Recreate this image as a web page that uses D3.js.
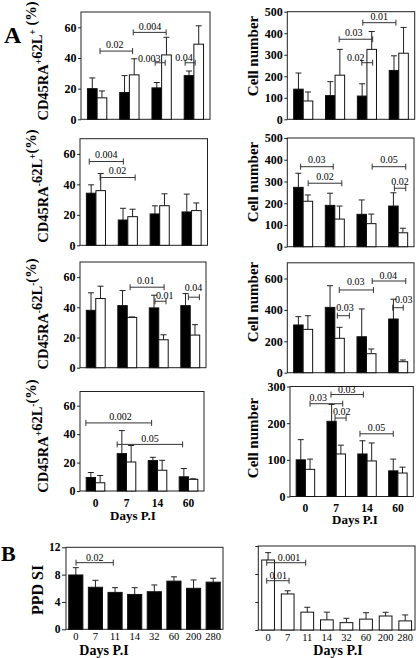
<!DOCTYPE html>
<html><head><meta charset="utf-8">
<script src="https://cdn.jsdelivr.net/npm/d3@7"></script>
<style>
body{margin:0;background:#fff;}
svg{display:block;}
text{font-family:"Liberation Serif","Times New Roman",serif;fill:#000;}
</style></head><body>
<svg id="c" width="416" height="658"></svg>
<script>
// ---------- DATA ----------
const days = ["0","7","14","60"];
const daysB = ["0","7","11","14","32","60","200","280"];

// Row 1: CD45RA+62L+
const r1PctBlack = [20, 17.5, 20.5, 28.5];
const r1PctBlackSD = [7, 11, 3.5, 3];
const r1PctWhite = [14, 29, 42, 49];
const r1PctWhiteSD = [4.5, 10.5, 11.5, 12];
const r1CntBlack = [140, 110, 108, 227];
const r1CntBlackSD = [75, 65, 57, 68];
const r1CntWhite = [85, 205, 325, 307];
const r1CntWhiteSD = [42, 120, 83, 120];

// Row 2: CD45RA-62L+
const r2PctBlack = [34.2, 16.6, 20.6, 21.9];
const r2PctBlackSD = [5.5, 7.7, 5.3, 11.7];
const r2PctWhite = [35.9, 18.8, 26, 22.8];
const r2PctWhiteSD = [11.2, 4.9, 7.8, 5];
const r2CntBlack = [273, 190, 149, 187];
const r2CntBlackSD = [65, 56, 66, 61];
const r2CntWhite = [209, 127, 106, 64];
const r2CntWhiteSD = [29, 60, 44, 21];

// Row 3: CD45RA-62L-
const r3PctBlack = [38, 41.1, 39.6, 41.1];
const r3PctBlackSD = [11.6, 10, 8.4, 8];
const r3PctWhite = [45.8, 33.3, 18.5, 21.6];
const r3PctWhiteSD = [8.2, 0.3, 3.3, 6.9];
const r3CntBlack = [304, 416, 229, 342];
const r3CntBlackSD = [53, 138, 177, 126];
const r3CntWhite = [276, 219, 121, 70];
const r3CntWhiteSD = [87, 70, 30, 11];

// Row 4: CD45RA+62L-
const r4PctBlack = [9.5, 26.3, 21.4, 10];
const r4PctBlackSD = [3.5, 16.2, 2.3, 5.8];
const r4PctWhite = [5.8, 20.4, 14.6, 8.2];
const r4PctWhiteSD = [5.1, 11.6, 7, 0.4];
const r4CntBlack = [100, 205, 116, 70];
const r4CntBlackSD = [55, 46, 36, 32];
const r4CntWhite = [74, 116, 97, 64];
const r4CntWhiteSD = [28, 24, 49, 16];

// Panel B: PPD SI
const bBlack = [7.95, 6.15, 5.4, 5.1, 5.5, 7.05, 6.0, 6.9];
const bBlackSD = [1.07, 1.02, 0.69, 0.99, 0.99, 0.63, 1.22, 0.57];
const bWhite = [10, 5.15, 2.55, 1.45, 1.05, 1.55, 2.0, 1.3];
const bWhiteSD = [1.05, 0.45, 0.7, 1.1, 0.62, 0.92, 0.53, 0.85];

// Tick values
const pctTicks = [0, 20, 40, 60];
const cnt500Ticks = [0, 100, 200, 300, 400, 500];
const cnt700Ticks = [0, 200, 400, 600];
const cnt300Ticks = [0, 100, 200, 300];
const bTicks = [0, 4, 8, 12];

// p-value brackets: x in group units (fractional), y in data units
const r1PctP = [
  {x1:0.09,x2:1.10,y:44.5,p:"0.02",tx:0.55,ty:46.4},
  {x1:1.12,x2:2.14,y:56.7,p:"0.004",tx:1.64,ty:58.4},
  {x1:1.80,x2:2.11,y:36.9,p:"0.003",tx:1.62,ty:37.6},
  {x1:2.73,x2:3.04,y:36.9,p:"0.04",tx:2.69,ty:38.2}
];
const r1CntP = [
  {x1:1.13,x2:2.18,y:372,p:"0.03",tx:1.59,ty:387},
  {x1:1.87,x2:2.91,y:449,p:"0.01",tx:2.39,ty:462},
  {x1:1.84,x2:2.18,y:263,p:"0.02",tx:1.65,ty:271}
];
const r2PctP = [
  {x1:-0.21,x2:0.86,y:55,p:"0.004",tx:0.32,ty:57},
  {x1:0.13,x2:1.23,y:44.5,p:"0.02",tx:0.68,ty:46.5}
];
const r2CntP = [
  {x1:-0.08,x2:0.95,y:368,p:"0.03",tx:0.43,ty:384},
  {x1:0.16,x2:1.22,y:292,p:"0.02",tx:0.69,ty:307},
  {x1:2.18,x2:3.24,y:368,p:"0.05",tx:2.71,ty:384},
  {x1:2.88,x2:3.24,y:269,p:"0.02",tx:3.06,ty:284}
];
const r3PctP = [
  {x1:1.09,x2:2.17,y:53.3,p:"0.01",tx:1.59,ty:55.1},
  {x1:1.88,x2:2.23,y:44,p:"0.01",tx:2.19,ty:45.3},
  {x1:2.94,x2:3.29,y:46.7,p:"0.04",tx:3.10,ty:51.1}
];
const r3CntP = [
  {x1:1.14,x2:2.22,y:527,p:"0.03",tx:1.66,ty:560},
  {x1:2.18,x2:3.24,y:584,p:"0.04",tx:2.69,ty:600},
  {x1:1.08,x2:1.46,y:363,p:"0.03",tx:1.32,ty:393},
  {x1:2.83,x2:3.16,y:414,p:"0.03",tx:3.18,ty:444}
];
const r4PctP = [
  {x1:-0.31,x2:1.81,y:47.9,p:"0.002",tx:0.81,ty:50.2},
  {x1:0.70,x2:2.81,y:32.8,p:"0.05",tx:1.76,ty:34.8}
];
const r4CntP = [
  {x1:0.15,x2:1.21,y:253,p:"0.03",tx:0.42,ty:260},
  {x1:0.83,x2:1.88,y:278,p:"0.03",tx:1.34,ty:282},
  {x1:0.96,x2:1.32,y:214,p:"0.02",tx:1.18,ty:223},
  {x1:1.77,x2:2.85,y:171,p:"0.05",tx:2.31,ty:178}
];
const bBlackP = [
  {x1:0.01,x2:1.91,y:9.75,p:"0.02",tx:0.96,ty:10.0}
];
const bWhiteP = [
  {x1:-0.07,x2:1.92,y:9.61,p:"0.001",tx:1.07,ty:9.86},
  {x1:-0.07,x2:1.07,y:7.04,p:"0.01",tx:0.52,ty:7.29}
];

// ---------- DRAW ----------
const svg = d3.select("#c");
const FONT = '"Liberation Serif","Times New Roman",serif';

function panel(cfg) {
  const g = svg.append("g");
  const x = d3.scaleBand().domain(cfg.cats).range([cfg.L, cfg.R]).padding(0);
  const gx = d3.scaleLinear().domain([-0.5, cfg.cats.length - 0.5]).range([cfg.L, cfg.R]);
  const y = d3.scaleLinear().domain([0, cfg.max]).range([cfg.B, cfg.T]);
  const step = x.step();
  const bw = step * cfg.barFrac;
  const inner = d3.scaleBand().domain(cfg.series.map(s => s.key))
    .range(cfg.series.length === 2 ? [-bw, bw] : [-bw / 2, bw / 2]).padding(0);

  g.append("rect").attr("x", cfg.L).attr("y", cfg.T)
    .attr("width", cfg.R - cfg.L).attr("height", cfg.B - cfg.T)
    .attr("fill", "none").attr("stroke", "#222").attr("stroke-width", 1);

  cfg.series.forEach(s => {
    const data = cfg.cats.map((c, i) => ({c, v: s.values[i], sd: s.sd[i]}));
    const cx = d => x(d.c) + step / 2 + inner(s.key) + inner.bandwidth() / 2;
    const sg = g.append("g");
    sg.selectAll("line.err").data(data).join("line")
      .attr("x1", cx).attr("x2", cx)
      .attr("y1", d => y(d.v)).attr("y2", d => y(d.v + d.sd))
      .attr("stroke", "#222").attr("stroke-width", 1);
    sg.selectAll("line.cap").data(data).join("line")
      .attr("x1", d => cx(d) - 3).attr("x2", d => cx(d) + 3)
      .attr("y1", d => y(d.v + d.sd)).attr("y2", d => y(d.v + d.sd))
      .attr("stroke", "#222").attr("stroke-width", 1);
    sg.selectAll("rect").data(data).join("rect")
      .attr("x", d => x(d.c) + step / 2 + inner(s.key))
      .attr("width", inner.bandwidth())
      .attr("y", d => y(d.v)).attr("height", d => y(0) - y(d.v))
      .attr("fill", s.fill).attr("stroke", "#111").attr("stroke-width", 1);
  });

  const ax = g.append("g").attr("transform", `translate(${cfg.L},0)`)
    .call(d3.axisLeft(y).tickValues(cfg.ticks).tickSize(cfg.tickLen || 3).tickPadding(1.5)
      .tickFormat(cfg.noTickLabels ? () => "" : d3.format("d")));
  ax.select(".domain").remove();
  ax.selectAll("line").attr("stroke", "#222");
  ax.selectAll("text").attr("font-family", FONT).attr("font-weight", "bold")
    .attr("font-size", cfg.tickFont || "12px").attr("fill", "#000");

  if (cfg.xLabels) {
    g.selectAll("text.xl").data(cfg.cats).join("text")
      .attr("x", d => x(d) + step / 2).attr("y", cfg.B + cfg.xLabelDy)
      .attr("text-anchor", "middle").attr("font-size", cfg.xLabelFont)
      .attr("font-weight", cfg.xLabelWeight).text(d => d);
  }

  const pg = g.append("g");
  cfg.pvals.forEach(a => {
    const yy = y(a.y);
    pg.append("line").attr("x1", gx(a.x1)).attr("x2", gx(a.x2)).attr("y1", yy).attr("y2", yy)
      .attr("stroke", "#333").attr("stroke-width", 1);
    [a.x1, a.x2].forEach(xx => pg.append("line").attr("x1", gx(xx)).attr("x2", gx(xx))
      .attr("y1", yy - 3).attr("y2", yy + 3).attr("stroke", "#333").attr("stroke-width", 1));
    pg.append("text").attr("x", gx(a.tx)).attr("y", y(a.ty)).attr("text-anchor", "middle")
      .attr("font-size", "10px").text(a.p);
  });
}

function series2(b, bsd, w, wsd) {
  return [{key: "black", values: b, sd: bsd, fill: "#000"},
          {key: "white", values: w, sd: wsd, fill: "#fff"}];
}

const rows = [
  {L:81,R:210,T:12,B:119.3,max:70,ticks:pctTicks,s:series2(r1PctBlack,r1PctBlackSD,r1PctWhite,r1PctWhiteSD),p:r1PctP},
  {L:287.3,R:414.7,T:11.7,B:119.3,max:500,ticks:cnt500Ticks,s:series2(r1CntBlack,r1CntBlackSD,r1CntWhite,r1CntWhiteSD),p:r1CntP},
  {L:80,R:207.5,T:138.7,B:245.3,max:70,ticks:pctTicks,s:series2(r2PctBlack,r2PctBlackSD,r2PctWhite,r2PctWhiteSD),p:r2PctP},
  {L:287.3,R:414,T:138,B:246.7,max:500,ticks:cnt500Ticks,s:series2(r2CntBlack,r2CntBlackSD,r2CntWhite,r2CntWhiteSD),p:r2CntP},
  {L:80,R:206,T:262,B:367.7,max:70,ticks:pctTicks,s:series2(r3PctBlack,r3PctBlackSD,r3PctWhite,r3PctWhiteSD),p:r3PctP},
  {L:287.3,R:414,T:262.8,B:372.7,max:700,ticks:cnt700Ticks,s:series2(r3CntBlack,r3CntBlackSD,r3CntWhite,r3CntWhiteSD),p:r3CntP},
  {L:80,R:204,T:391.5,B:491,max:70,ticks:pctTicks,s:series2(r4PctBlack,r4PctBlackSD,r4PctWhite,r4PctWhiteSD),p:r4PctP,xl:true,xdy:15.5},
  {L:290,R:413.3,T:386.5,B:496.5,max:300,ticks:cnt300Ticks,s:series2(r4CntBlack,r4CntBlackSD,r4CntWhite,r4CntWhiteSD),p:r4CntP,xl:true,xdy:15}
];
rows.forEach(r => panel({
  cats: days, L:r.L, R:r.R, T:r.T, B:r.B, max:r.max, ticks:r.ticks, series:r.s, pvals:r.p,
  barFrac: 0.3, xLabels: !!r.xl, xLabelDy: r.xdy, xLabelFont: "11.5px", xLabelWeight: "bold"
}));

panel({cats: daysB, L:66, R:223, T:547.3, B:629.3, max:12, ticks:bTicks,
  series:[{key:"black", values:bBlack, sd:bBlackSD, fill:"#000"}], pvals:bBlackP,
  barFrac: 0.72, xLabels:true, xLabelDy:10.5, xLabelFont:"10.5px", xLabelWeight:"normal", tickFont:"11.5px", tickLen:4});
panel({cats: daysB, L:258.3, R:415, T:546, B:630, max:12, ticks:bTicks, noTickLabels:true,
  series:[{key:"white", values:bWhite, sd:bWhiteSD, fill:"#fff"}], pvals:bWhiteP,
  barFrac: 0.65, xLabels:true, xLabelDy:11, xLabelFont:"10.5px", xLabelWeight:"normal"});

// ---------- TEXT ----------
function vtitle(x, y, parts, size) {
  const t = svg.append("text").attr("transform", `translate(${x},${y}) rotate(-90)`)
    .attr("text-anchor", "middle").attr("font-weight", "bold").attr("font-size", size);
  parts.forEach(p => {
    if (p.sup) {
      t.append("tspan").attr("dy", -6).attr("font-size", "9.5px").text(p.t);
      t.append("tspan").attr("dy", 6).text("");
    } else t.append("tspan").text(p.t);
  });
}
const leftTitleY = [61, 186, 314, 436];
const titleParts = [
  [{t:"CD45RA"},{t:"+",sup:1},{t:"62L"},{t:"+",sup:1},{t:" (%)"}],
  [{t:"CD45RA"},{t:"-",sup:1},{t:"62L"},{t:"+",sup:1},{t:"(%)"}],
  [{t:"CD45RA"},{t:"-",sup:1},{t:"62L"},{t:"-",sup:1},{t:"(%)"}],
  [{t:"CD45RA"},{t:"+",sup:1},{t:"62L"},{t:"-",sup:1},{t:"(%)"}]
];
titleParts.forEach((p, i) => vtitle(48, leftTitleY[i], p, "14.5px"));
const rightTitleY = [56, 182, 302, 438];
rightTitleY.forEach(yy => vtitle(258, yy, [{t:"Cell number"}], "15px"));
vtitle(43, 590, [{t:"PPD SI"}], "16px");

function htext(x, y, s, size) {
  svg.append("text").attr("x", x).attr("y", y).attr("text-anchor", "middle")
    .attr("font-weight", "bold").attr("font-size", size).text(s);
}
htext(133, 520, "Days P.I", "13px");
htext(355, 524, "Days P.I", "13px");
htext(104, 655, "Days P.I", "14px");
htext(338, 655, "Days P.I", "14px");

svg.append("text").attr("x", 4).attr("y", 43).attr("font-weight", "bold").attr("font-size", "24px").text("A");
svg.append("text").attr("x", 1).attr("y", 561).attr("font-weight", "bold").attr("font-size", "22px").text("B");
</script>
</body></html>
